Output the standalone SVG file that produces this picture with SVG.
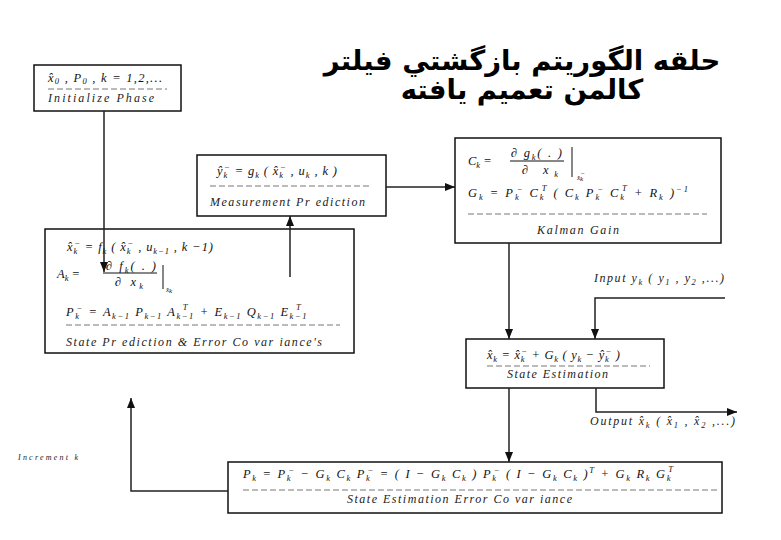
<svg xmlns="http://www.w3.org/2000/svg" width="781" height="540" viewBox="0 0 781 540">
<style>
.bg{fill:#fff}
.box{fill:#fff;stroke:#111;stroke-width:1.5}
.m{font-family:"Liberation Serif","Times New Roman",serif;font-style:italic;font-size:12.5px;fill:#111}
.lb{font-family:"Liberation Serif","Times New Roman",serif;font-style:italic;font-size:12px;fill:#222}
.s{font-size:8.5px}
.dash{stroke:#777;stroke-width:1;stroke-dasharray:6 3}
.c{fill:none;stroke:#222;stroke-width:1.5}
.t{font-family:"DejaVu Sans",sans-serif;font-weight:bold;font-size:27.5px;fill:#000}
.bar{stroke:#111;stroke-width:1}
</style>
<defs>
<marker id="ah" markerUnits="userSpaceOnUse" markerWidth="10" markerHeight="8" refX="10" refY="4" orient="auto">
<path d="M0,0 L10,4 L0,8 z" fill="#111"/>
</marker>
</defs>
<rect class="bg" x="0" y="0" width="781" height="540"/>

<g id="title">
<text class="t" x="522" y="70" text-anchor="middle">حلقه الگوریتم بازگشتي فیلتر</text>
<text class="t" x="522" y="99" text-anchor="middle">کالمن تعمیم یافته</text>
</g>

<g id="init">
<rect class="box" x="34" y="65" width="147" height="46"/>
<text class="m" x="48" y="82" textLength="114" lengthAdjust="spacing">x̂<tspan class="s" dy="2">0</tspan><tspan dy="-2"> , P</tspan><tspan class="s" dy="2">0</tspan><tspan dy="-2"> , k = 1,2,...</tspan></text>
<line class="dash" x1="48" y1="89" x2="167" y2="89"/>
<text class="lb" x="48" y="102" textLength="106" lengthAdjust="spacing">Initialize Phase</text>
</g>

<g id="measurement">
<rect class="box" x="197" y="155" width="189" height="61"/>
<text class="m" x="217" y="175" textLength="120" lengthAdjust="spacing">ŷ<tspan class="s" dy="3">k</tspan><tspan class="s" dx="-4" dy="-8">−</tspan><tspan dy="5"> = g</tspan><tspan class="s" dy="3">k</tspan><tspan dy="-3"> ( x̂</tspan><tspan class="s" dy="3">k</tspan><tspan class="s" dx="-4" dy="-8">−</tspan><tspan dy="5"> , u</tspan><tspan class="s" dy="3">k</tspan><tspan dy="-3"> , k )</tspan></text>
<line class="dash" x1="210" y1="186" x2="372" y2="186"/>
<text class="lb" x="210" y="206" textLength="155" lengthAdjust="spacing">Measurement  Pr ediction</text>
</g>

<g id="kalman">
<rect class="box" x="455" y="138" width="266" height="105"/>
<text class="m" x="468" y="165">C<tspan class="s" dy="3">k</tspan><tspan dy="-3"> =</tspan></text>
<text class="m" x="511" y="157" textLength="51" lengthAdjust="spacing">∂ g<tspan class="s" dy="3">k</tspan><tspan dy="-3">( . )</tspan></text>
<line class="bar" x1="510" y1="161" x2="564" y2="161"/>
<text class="m" x="522" y="174" textLength="36" lengthAdjust="spacing">∂ x<tspan class="s" dy="3">k</tspan></text>
<line class="bar" x1="572" y1="147" x2="572" y2="177"/>
<text class="m" x="577" y="180" style="font-size:7px">x̂<tspan dy="1">k</tspan><tspan dx="-3" dy="-5">−</tspan></text>
<text class="m" x="468" y="197" textLength="220" lengthAdjust="spacing">G<tspan class="s" dy="3">k</tspan><tspan dy="-3"> = P</tspan><tspan class="s" dy="3">k</tspan><tspan class="s" dx="-4" dy="-8">−</tspan><tspan dy="5"> C</tspan><tspan class="s" dy="3">k</tspan><tspan class="s" dx="-4" dy="-9">T</tspan><tspan dy="6"> ( C</tspan><tspan class="s" dy="3">k</tspan><tspan dy="-3"> P</tspan><tspan class="s" dy="3">k</tspan><tspan class="s" dx="-4" dy="-8">−</tspan><tspan dy="5"> C</tspan><tspan class="s" dy="3">k</tspan><tspan class="s" dx="-4" dy="-9">T</tspan><tspan dy="6"> + R</tspan><tspan class="s" dy="3">k</tspan><tspan dy="-3"> )</tspan><tspan class="s" dy="-5">−1</tspan></text>
<line class="dash" x1="468" y1="214" x2="707" y2="214"/>
<text class="lb" x="537" y="234" textLength="82" lengthAdjust="spacing">Kalman Gain</text>
</g>

<g id="state-prediction">
<rect class="box" x="45" y="229" width="309" height="124"/>
<text class="m" x="67" y="251" textLength="146" lengthAdjust="spacing">x̂<tspan class="s" dy="3">k</tspan><tspan class="s" dx="-4" dy="-8">−</tspan><tspan dy="5"> = f</tspan><tspan class="s" dy="3">k</tspan><tspan dy="-3"> ( x̂</tspan><tspan class="s" dy="3">k</tspan><tspan class="s" dx="-4" dy="-8">−</tspan><tspan dy="5"> , u</tspan><tspan class="s" dy="3">k−1</tspan><tspan dy="-3"> , k −1)</tspan></text>
<text class="m" x="57" y="278">A<tspan class="s" dy="3">k</tspan><tspan dy="-3">  =</tspan></text>
<text class="m" x="106" y="270" textLength="50" lengthAdjust="spacing">∂ f<tspan class="s" dy="3">k</tspan><tspan dy="-3">( . )</tspan></text>
<line class="bar" x1="103" y1="273" x2="157" y2="273"/>
<text class="m" x="115" y="286" textLength="28" lengthAdjust="spacing">∂ x<tspan class="s" dy="3">k</tspan></text>
<line class="bar" x1="163" y1="265" x2="163" y2="289"/>
<text class="m" x="166" y="292" style="font-size:7px">x̂<tspan dy="1">k</tspan></text>
<text class="m" x="66" y="316" textLength="242" lengthAdjust="spacing">P<tspan class="s" dy="3">k</tspan><tspan class="s" dx="-4" dy="-8">−</tspan><tspan dy="5"> = A</tspan><tspan class="s" dy="3">k−1</tspan><tspan dy="-3"> P</tspan><tspan class="s" dy="3">k−1</tspan><tspan dy="-3"> A</tspan><tspan class="s" dy="3">k−1</tspan><tspan class="s" dx="-12" dy="-9">T</tspan><tspan dy="6" dx="6"> + E</tspan><tspan class="s" dy="3">k−1</tspan><tspan dy="-3"> Q</tspan><tspan class="s" dy="3">k−1</tspan><tspan dy="-3"> E</tspan><tspan class="s" dy="3">k−1</tspan><tspan class="s" dx="-12" dy="-9">T</tspan></text>
<line class="dash" x1="66" y1="325" x2="340" y2="325"/>
<text class="lb" x="66" y="346" textLength="256" lengthAdjust="spacing">State Pr ediction &amp; Error Co var iance's</text>
</g>

<g id="state-estimation">
<rect class="box" x="466" y="339" width="198" height="49"/>
<text class="m" x="487" y="359" textLength="133" lengthAdjust="spacing">x̂<tspan class="s" dy="3">k</tspan><tspan dy="-3"> = x̂</tspan><tspan class="s" dy="3">k</tspan><tspan class="s" dx="-4" dy="-8">−</tspan><tspan dy="5"> + G</tspan><tspan class="s" dy="3">k</tspan><tspan dy="-3"> ( y</tspan><tspan class="s" dy="3">k</tspan><tspan dy="-3"> − ŷ</tspan><tspan class="s" dy="3">k</tspan><tspan class="s" dx="-4" dy="-8">−</tspan><tspan dy="5"> )</tspan></text>
<line class="dash" x1="487" y1="366" x2="650" y2="366"/>
<text class="lb" x="507" y="378" textLength="101" lengthAdjust="spacing">State Estimation</text>
</g>

<g id="covariance">
<rect class="box" x="228" y="462" width="494" height="51"/>
<text class="m" x="243" y="478" textLength="430" lengthAdjust="spacing">P<tspan class="s" dy="3">k</tspan><tspan dy="-3"> = P</tspan><tspan class="s" dy="3">k</tspan><tspan class="s" dx="-4" dy="-8">−</tspan><tspan dy="5"> − G</tspan><tspan class="s" dy="3">k</tspan><tspan dy="-3"> C</tspan><tspan class="s" dy="3">k</tspan><tspan dy="-3"> P</tspan><tspan class="s" dy="3">k</tspan><tspan class="s" dx="-4" dy="-8">−</tspan><tspan dy="5"> = ( I − G</tspan><tspan class="s" dy="3">k</tspan><tspan dy="-3"> C</tspan><tspan class="s" dy="3">k</tspan><tspan dy="-3"> ) P</tspan><tspan class="s" dy="3">k</tspan><tspan class="s" dx="-4" dy="-8">−</tspan><tspan dy="5"> ( I − G</tspan><tspan class="s" dy="3">k</tspan><tspan dy="-3"> C</tspan><tspan class="s" dy="3">k</tspan><tspan dy="-3"> )</tspan><tspan class="s" dy="-5">T</tspan><tspan dy="5"> + G</tspan><tspan class="s" dy="3">k</tspan><tspan dy="-3"> R</tspan><tspan class="s" dy="3">k</tspan><tspan dy="-3"> G</tspan><tspan class="s" dy="3">k</tspan><tspan class="s" dx="-4" dy="-9">T</tspan></text>
<line class="dash" x1="243" y1="490" x2="720" y2="490"/>
<text class="lb" x="347" y="503" textLength="225" lengthAdjust="spacing">State Estimation Error Co var iance</text>
</g>

<g id="labels">
<text class="lb" x="594" y="282" textLength="130" lengthAdjust="spacing">Input y<tspan class="s" dy="3">k</tspan><tspan dy="-3"> ( y</tspan><tspan class="s" dy="3">1</tspan><tspan dy="-3"> , y</tspan><tspan class="s" dy="3">2</tspan><tspan dy="-3"> ,...)</tspan></text>
<text class="lb" x="590" y="425" textLength="145" lengthAdjust="spacing">Output x̂<tspan class="s" dy="3">k</tspan><tspan dy="-3"> ( x̂</tspan><tspan class="s" dy="3">1</tspan><tspan dy="-3"> , x̂</tspan><tspan class="s" dy="3">2</tspan><tspan dy="-3"> ,...)</tspan></text>
<text class="lb" x="18" y="460" style="font-size:8px" textLength="60" lengthAdjust="spacing">Increment  k</text>
</g>

<g id="connectors">
<path class="c" d="M104,111 V272" marker-end="url(#ah)"/>
<path class="c" d="M290,277 V216" marker-end="url(#ah)"/>
<path class="c" d="M386,187 H455" marker-end="url(#ah)"/>
<path class="c" d="M509,243 V339" marker-end="url(#ah)"/>
<path class="c" d="M725,298 H595 V339" marker-end="url(#ah)"/>
<path class="c" d="M596,388 V412 H737" marker-end="url(#ah)"/>
<path class="c" d="M509,388 V462" marker-end="url(#ah)"/>
<path class="c" d="M228,491 H131 V398" marker-end="url(#ah)"/>
</g>
</svg>
